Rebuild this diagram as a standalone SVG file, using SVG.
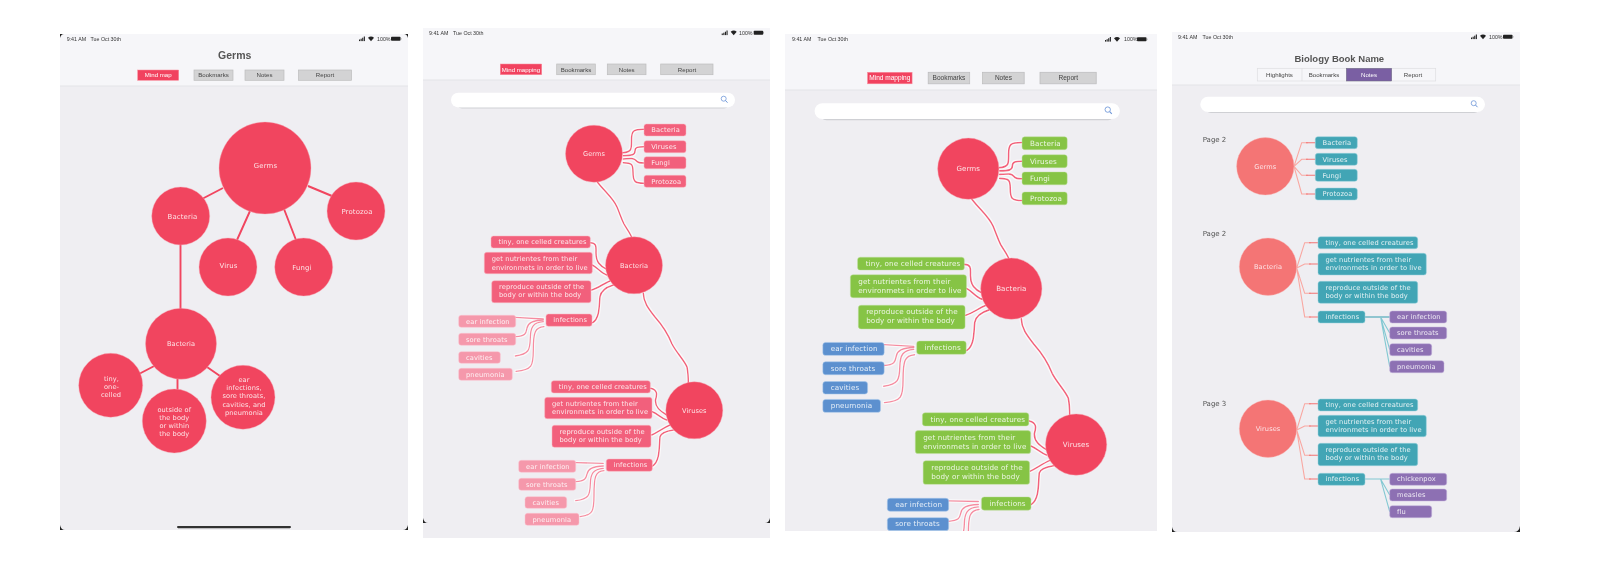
<svg xmlns="http://www.w3.org/2000/svg" xmlns:xlink="http://www.w3.org/1999/xlink" width="1608" height="570" viewBox="0 0 1608 570">
<defs>
<style>
text{font-family:"DejaVu Sans","Liberation Sans",sans-serif;}
.ui{font-family:"Liberation Sans",Arial,sans-serif;}
.st{font-size:5.3px;fill:#333;}
.title{font-size:10.5px;font-weight:bold;fill:#555;text-anchor:middle;}
.tab{font-size:6.1px;fill:#444;text-anchor:middle;}
.tabw{font-size:6.1px;fill:#fff;text-anchor:middle;}
.hd{fill:#f6f6f9;}
.bg{fill:#efeef2;}
.dv{stroke:#e4e4e7;stroke-width:1;fill:none;}
.tg{fill:#d3d3d4;stroke:#bdbdbe;stroke-width:.7;}
.tr{fill:#f1435f;stroke:#fa8a9a;stroke-width:.5;}
.c{fill:#f1455f;stroke:#f8a6b2;stroke-width:.4;}
.cs{fill:#f47474;stroke:#f9b9b5;stroke-width:.4;}
.cl{font-size:6.9px;fill:#fde3e6;text-anchor:middle;letter-spacing:.15px;}
.cm{font-size:6.6px;fill:#fde3e6;text-anchor:middle;letter-spacing:.1px;}
.pl{font-size:6.7px;fill:#fff;fill-opacity:.85;letter-spacing:.12px;}
.p1{fill:#f2607b;stroke:#fbb4c0;stroke-width:.5;}
.p2{fill:#f598ab;stroke:#fbc5d0;stroke-width:.5;}
.g{fill:#86c445;stroke:#c0e0a0;stroke-width:.4;}
.b{fill:#5b90cf;stroke:#a6c6ea;stroke-width:.5;}
.t{fill:#43a5b5;stroke:#98d2dc;stroke-width:.5;}
.v{fill:#8d70b3;stroke:#c4b3dc;stroke-width:.5;}
.ln{fill:none;stroke:#f3607b;stroke-width:1.5;stroke-linecap:round;}
.lp{fill:none;stroke:#f68ba0;stroke-width:1.3;stroke-linecap:round;}
.thick{fill:none;stroke:#f1455f;stroke-width:1.9;}
.sa{fill:none;stroke:#f9a7a1;stroke-width:1.1;}
.sb{fill:none;stroke:#f47474;stroke-width:1.1;}
.ta{fill:none;stroke:#82c8d2;stroke-width:1.1;}
.tb{fill:none;stroke:#43a5b5;stroke-width:1.1;}
.sr{fill:#fff;}
.srs{fill:#cfd0d4;}
.pg{font-size:7px;fill:#555;}
</style>
<filter id="soft" x="0" y="0" width="100%" height="100%"><feGaussianBlur stdDeviation="0.32"/></filter>
<filter id="halo" x="-5%" y="-5%" width="110%" height="110%"><feMorphology in="SourceAlpha" operator="dilate" radius="0.6" result="d"/><feFlood flood-color="#fff" flood-opacity=".7"/><feComposite in2="d" operator="in" result="w"/><feMerge><feMergeNode in="w"/><feMergeNode in="SourceGraphic"/></feMerge></filter>
<g id="sig"><rect x="0" y="3" width="1.1" height="1.6" fill="#222"/><rect x="1.6" y="2.2" width="1.1" height="2.4" fill="#222"/><rect x="3.2" y="1.2" width="1.1" height="3.4" fill="#222"/><rect x="4.8" y="0" width="1.1" height="4.6" fill="#222"/><path d="M9 1.2Q12 -1 15 1.2L12 4.8Z" fill="#222"/><rect x="32" y="0.3" width="9.5" height="4" rx=".8" fill="#222"/><rect x="41.7" y="1.5" width=".6" height="1.6" fill="#777"/></g>
<g id="mag"><circle cx="-.8" cy="-.8" r="2.5" fill="none" stroke="#6f97d8" stroke-width=".8"/><path d="M1 1L3 3.2" stroke="#6f97d8" stroke-width="1" fill="none"/></g>
<clipPath id="c3"><rect x="423" y="28" width="347" height="462.700"/></clipPath>
</defs>
<rect width="1608" height="570" fill="#fff"/>
<g filter="url(#soft)">

<g id="panel-1">
<rect x="60" y="34" width="348" height="496" class="bg"/>
<rect x="60" y="34" width="348" height="52" class="hd"/>
<path d="M60 86H408" class="dv"/>
<path d="M60 34h4q-3 0-4 4zM408 34h-4q3 0 4 4zM60 530h5q-4 0-5-5zM408 530h-5q4 0 5-5z" fill="#222"/>
<text x="66.700" y="41" class="st ui">9:41 AM</text><text x="90.500" y="41" class="st ui">Tue Oct 30th</text>
<use href="#sig" x="359" y="36.500"/><text x="377" y="41" class="st ui">100%</text>
<text x="234.700" y="58.500" class="title ui">Germs</text>
<rect x="137.700" y="70" width="41" height="10.300" class="tr"/><text x="158.200" y="77.300" class="tabw ui">Mind map</text>
<rect x="194" y="70" width="39" height="10.300" class="tg"/><text x="213.500" y="77.300" class="tab ui">Bookmarks</text>
<rect x="245" y="70" width="39" height="10.300" class="tg"/><text x="264.500" y="77.300" class="tab ui">Notes</text>
<rect x="298.500" y="70" width="53" height="10.300" class="tg"/><text x="325" y="77.300" class="tab ui">Report</text>
</g>
<g id="connectors-1">
<path class="thick" d="M223 188L200 200M250 211L237 240M284 209L296 240M308 186L332 196M180.500 245V309M160 363L137 375M177.500 378V390M207 367L220 376"/>
</g>
<g id="n1-germs"><circle cx="265" cy="168" r="46" class="c"/><text x="265.500" y="168" class="cl">Germs</text></g>
<g id="n1-bacteria"><circle cx="180.700" cy="216" r="29" class="c"/><text x="182.500" y="218.500" class="cl">Bacteria</text></g>
<g id="n1-protozoa"><circle cx="356" cy="211" r="29" class="c"/><text x="357" y="213.500" class="cl">Protozoa</text></g>
<g id="n1-virus"><circle cx="228" cy="267" r="29" class="c"/><text x="228.500" y="268" class="cl">Virus</text></g>
<g id="n1-fungi"><circle cx="303.700" cy="267" r="29" class="c"/><text x="302" y="269.500" class="cl">Fungi</text></g>
<g id="n1-bacteria-2"><circle cx="181" cy="343.700" r="35.500" class="c"/><text x="181" y="345.800" class="cm">Bacteria</text></g>
<g id="n1-tiny"><circle cx="110.700" cy="385.300" r="32" class="c"/><text class="cm"><tspan x="111.500" y="380.500">tiny,</tspan><tspan x="111.500" y="388.800">one-</tspan><tspan x="111" y="397">celled</tspan></text></g>
<g id="n1-outside"><circle cx="174.300" cy="421" r="32" class="c"/><text class="cm"><tspan x="174.300" y="411.500">outside of</tspan><tspan x="174.300" y="419.800">the body</tspan><tspan x="174.300" y="428">or within</tspan><tspan x="174.300" y="436.300">the body</tspan></text></g>
<g id="n1-ear"><circle cx="243" cy="397.300" r="32" class="c"/><text class="cm"><tspan x="244" y="381.700">ear</tspan><tspan x="244" y="390">infections,</tspan><tspan x="244" y="398.300">sore throats,</tspan><tspan x="244" y="406.600">cavities, and</tspan><tspan x="244" y="415">pneumonia</tspan></text></g>
<rect x="177" y="526" width="114" height="2.200" rx="1.100" fill="#333"/>

<g id="panel-2">
<rect x="423" y="28" width="347" height="510" class="bg"/>
<rect x="423" y="28" width="347" height="52" class="hd"/>
<path d="M423 80H770" class="dv"/>
<path d="M423 518q1 5 5 5h-5zM770 518q-1 5-5 5h5z" fill="#222"/>
<text x="429" y="35" class="st ui">9:41 AM</text><text x="453" y="35" class="st ui">Tue Oct 30th</text>
<use href="#sig" x="721.700" y="30.500"/><text x="739" y="35" class="st ui">100%</text>
</g>

<g id="map-a">
<g id="tabs-2">
<rect x="500.300" y="64" width="41.400" height="10.700" class="tr"/><text x="521" y="71.500" class="tabw ui">Mind mapping</text>
<rect x="556.700" y="64" width="38.600" height="10.700" class="tg"/><text x="576" y="71.500" class="tab ui">Bookmarks</text>
<rect x="607.300" y="64" width="38.700" height="10.700" class="tg"/><text x="626.700" y="71.500" class="tab ui">Notes</text>
<rect x="660.700" y="64" width="52.300" height="10.700" class="tg"/><text x="687" y="71.500" class="tab ui">Report</text>
<rect x="456" y="95" width="274" height="13.500" rx="6" class="srs"/>
<rect x="451" y="92.700" width="284" height="14.700" rx="7.300" class="sr"/>
<use href="#mag" x="724.500" y="99.500"/>
</g>
<g id="connectors-2" filter="url(#halo)">
<path id="edges-main" class="ln" d="M597.300 182C606 193 613 198 617 207C620 214 621 218 624 224C628 231 631 234 632.700 240M622.700 152.700C632 152 631.500 149 631.500 140C631.500 131 633 129.300 644 129.300M623.300 155.700C632 155.500 635 155 635 151C635 147 638 146.700 644 146.700M623.300 159C632 158.500 634 158 636 160.500C638 163 640 163 644 163M623.300 162.700C632 163 633 164 633 172C633 182 635 183.300 644 183.300M590.300 242.700C597 243 596 247 596 253C596 262 600 266 606.700 269.300M592.300 265C598 268 601 273 606.700 275M591.700 290C598 288 603 284 610 281M592.700 322.700C600 318 599 305 600 296.700C601 290 607 287 613.300 285M643.300 293.300C643.500 302 648 308 655 317C663 326 668 334 672 344C676 352 684 360 687 367C688 372 688.300 378 688.300 383.300M650.700 388.300C658 390 657 395 655.500 400C655 407 660 411 666.700 415M652.300 411.700C658 414 661 418 666.700 420M651.700 435C658 432 663 428 670 425M652.700 466C660 461 659 448 660 436.700C661 433 667 431 673.300 430"/>
<path id="edges-sub" class="lp" d="M515.300 317.300L543.300 319M515.700 336.700C526 336 526 333 527 328C528 323 532 320.500 543.300 320M515.300 356C529 354 530 350 530.300 338C530.500 327 533 322.500 543.300 321.700M516 371.300C532 370 533.300 366 533.300 350C533.300 332 535 327.500 544 326.700M575.700 462.700L603.300 463.300M575.700 481.700C586 481 586 478 587 474C588 469 592 466.500 603.300 466M575.700 500.700C589 499 590 495 590.300 484C590.500 474 593 469 603.300 468.300M580 516.700C593 515 594 511 594 495C594 477 595 471.500 604 470.700"/>
</g>
<g id="n2-germs"><circle cx="594" cy="153.700" r="28.500" class="c"/><text x="594" y="155.800" class="cm">Germs</text></g>
<g id="n2-bacteria-root"><circle cx="634" cy="265.300" r="28.500" class="c"/><text x="634" y="267.500" class="cm">Bacteria</text></g>
<g id="n2-viruses-root"><circle cx="694.300" cy="410.300" r="28.500" class="c"/><text x="694.300" y="412.500" class="cm">Viruses</text></g>
</g>
<g id="pills-2">
<g id="n2-bacteria"><rect x="644" y="124" width="42" height="12" rx="2.500" class="p1"/><text x="651.300" y="132.300" class="pl">Bacteria</text></g>
<g id="n2-viruses"><rect x="644" y="140.700" width="42" height="12" rx="2.500" class="p1"/><text x="651.300" y="149" class="pl">Viruses</text></g>
<g id="n2-fungi"><rect x="644" y="156.700" width="42" height="12" rx="2.500" class="p1"/><text x="651.300" y="165" class="pl">Fungi</text></g>
<g id="n2-protozoa"><rect x="644" y="175.300" width="42" height="12" rx="2.500" class="p1"/><text x="651.300" y="183.500" class="pl">Protozoa</text></g>
<g id="n2-b-tiny"><rect x="491" y="236" width="99.300" height="12" rx="2.500" class="p1"/><text x="498.500" y="244.300" class="pl">tiny, one celled creatures</text></g>
<g id="n2-b-get"><rect x="484.300" y="252.300" width="108" height="21.400" rx="2.500" class="p1"/><text class="pl"><tspan x="491.700" y="261">get nutrientes from their</tspan><tspan x="491.700" y="269.500">environmets in order to live</tspan></text></g>
<g id="n2-b-rep"><rect x="491.700" y="280.700" width="99.300" height="22" rx="2.500" class="p1"/><text class="pl"><tspan x="499" y="288.800">reproduce outside of the</tspan><tspan x="499" y="297.200">body or within the body</tspan></text></g>
<g id="n2-b-inf"><rect x="546" y="314" width="46" height="12.300" rx="2.500" class="p1"/><text x="553.300" y="322" class="pl">infections</text></g>
<g id="n2-b-ear"><rect x="458.700" y="315.300" width="57" height="12" rx="2.500" class="p2"/><text x="466" y="323.500" class="pl">ear infection</text></g>
<g id="n2-b-sore"><rect x="458.700" y="333.300" width="57" height="12" rx="2.500" class="p2"/><text x="466" y="341.500" class="pl">sore throats</text></g>
<g id="n2-b-cav"><rect x="458.700" y="351.700" width="41.600" height="11.600" rx="2.500" class="p2"/><text x="466" y="359.700" class="pl">cavities</text></g>
<g id="n2-b-pne"><rect x="458.700" y="368.300" width="53.600" height="12" rx="2.500" class="p2"/><text x="466" y="376.700" class="pl">pneumonia</text></g>
<g id="n2-v-tiny"><rect x="551.300" y="380.700" width="99" height="12.300" rx="2.500" class="p1"/><text x="558.800" y="389.300" class="pl">tiny, one celled creatures</text></g>
<g id="n2-v-get"><rect x="544.700" y="397.300" width="107.300" height="21.400" rx="2.500" class="p1"/><text class="pl"><tspan x="552" y="405.800">get nutrientes from their</tspan><tspan x="552" y="414.300">environmets in order to live</tspan></text></g>
<g id="n2-v-rep"><rect x="552" y="425.300" width="99" height="22" rx="2.500" class="p1"/><text class="pl"><tspan x="559.500" y="433.500">reproduce outside of the</tspan><tspan x="559.500" y="442">body or within the body</tspan></text></g>
<g id="n2-v-inf"><rect x="606.300" y="459" width="46" height="12.300" rx="2.500" class="p1"/><text x="613.700" y="467" class="pl">infections</text></g>
<g id="n2-v-ear"><rect x="518.700" y="460.300" width="57" height="12" rx="2.500" class="p2"/><text x="526" y="468.500" class="pl">ear infection</text></g>
<g id="n2-v-sore"><rect x="518.700" y="478.300" width="57" height="12" rx="2.500" class="p2"/><text x="526" y="486.500" class="pl">sore throats</text></g>
<g id="n2-v-cav"><rect x="525" y="496.700" width="41.700" height="11.600" rx="2.500" class="p2"/><text x="532.500" y="504.700" class="pl">cavities</text></g>
<g id="n2-v-pne"><rect x="525" y="513.300" width="54" height="12" rx="2.500" class="p2"/><text x="532.500" y="521.700" class="pl">pneumonia</text></g>
</g>

<g id="panel-3">
<rect x="785" y="34" width="372" height="497" class="bg"/>
<rect x="785" y="34" width="372" height="56" class="hd"/>
<path d="M785 90H1157" class="dv"/>
<text x="792" y="41" class="st ui">9:41 AM</text><text x="817.500" y="41" class="st ui">Tue Oct 30th</text>
<use href="#sig" x="1105" y="37"/><text x="1124" y="41" class="st ui">100%</text>
<g transform="translate(329.750 3.500) scale(1.075)" clip-path="url(#c3)">
<use href="#map-a"/>
<g id="pills-3">
<g id="n3-bacteria"><rect x="644" y="124" width="42" height="12" rx="2.500" class="g"/><text x="651.300" y="132.300" class="pl">Bacteria</text></g>
<g id="n3-viruses"><rect x="644" y="140.700" width="42" height="12" rx="2.500" class="g"/><text x="651.300" y="149" class="pl">Viruses</text></g>
<g id="n3-fungi"><rect x="644" y="156.700" width="42" height="12" rx="2.500" class="g"/><text x="651.300" y="165" class="pl">Fungi</text></g>
<g id="n3-protozoa"><rect x="644" y="175.300" width="42" height="12" rx="2.500" class="g"/><text x="651.300" y="183.500" class="pl">Protozoa</text></g>
<g id="n3-b-tiny"><rect x="491" y="236" width="99.300" height="12" rx="2.500" class="g"/><text x="498.500" y="244.300" class="pl">tiny, one celled creatures</text></g>
<g id="n3-b-get"><rect x="484.300" y="252.300" width="108" height="21.400" rx="2.500" class="g"/><text class="pl"><tspan x="491.700" y="261">get nutrientes from their</tspan><tspan x="491.700" y="269.500">environmets in order to live</tspan></text></g>
<g id="n3-b-rep"><rect x="491.700" y="280.700" width="99.300" height="22" rx="2.500" class="g"/><text class="pl"><tspan x="499" y="288.800">reproduce outside of the</tspan><tspan x="499" y="297.200">body or within the body</tspan></text></g>
<g id="n3-b-inf"><rect x="546" y="314" width="46" height="12.300" rx="2.500" class="g"/><text x="553.300" y="322" class="pl">infections</text></g>
<g id="n3-b-ear"><rect x="458.700" y="315.300" width="57" height="12" rx="2.500" class="b"/><text x="466" y="323.500" class="pl">ear infection</text></g>
<g id="n3-b-sore"><rect x="458.700" y="333.300" width="57" height="12" rx="2.500" class="b"/><text x="466" y="341.500" class="pl">sore throats</text></g>
<g id="n3-b-cav"><rect x="458.700" y="351.700" width="41.600" height="11.600" rx="2.500" class="b"/><text x="466" y="359.700" class="pl">cavities</text></g>
<g id="n3-b-pne"><rect x="458.700" y="368.300" width="53.600" height="12" rx="2.500" class="b"/><text x="466" y="376.700" class="pl">pneumonia</text></g>
<g id="n3-v-tiny"><rect x="551.300" y="380.700" width="99" height="12.300" rx="2.500" class="g"/><text x="558.800" y="389.300" class="pl">tiny, one celled creatures</text></g>
<g id="n3-v-get"><rect x="544.700" y="397.300" width="107.300" height="21.400" rx="2.500" class="g"/><text class="pl"><tspan x="552" y="405.800">get nutrientes from their</tspan><tspan x="552" y="414.300">environmets in order to live</tspan></text></g>
<g id="n3-v-rep"><rect x="552" y="425.300" width="99" height="22" rx="2.500" class="g"/><text class="pl"><tspan x="559.500" y="433.500">reproduce outside of the</tspan><tspan x="559.500" y="442">body or within the body</tspan></text></g>
<g id="n3-v-inf"><rect x="606.300" y="459" width="46" height="12.300" rx="2.500" class="g"/><text x="613.700" y="467" class="pl">infections</text></g>
<g id="n3-v-ear"><rect x="518.700" y="460.300" width="57" height="12" rx="2.500" class="b"/><text x="526" y="468.500" class="pl">ear infection</text></g>
<g id="n3-v-sore"><rect x="518.700" y="478.300" width="57" height="12" rx="2.500" class="b"/><text x="526" y="486.500" class="pl">sore throats</text></g>
</g>
</g>
</g>

<g id="panel-4">
<rect x="1172" y="32" width="348" height="500" class="bg"/>
<rect x="1172" y="32" width="348" height="53" class="hd"/>
<path d="M1172 85H1520" class="dv"/>
<path d="M1172 527q1 5 5 5h-5zM1520 526q-1 6-6 6h6z" fill="#222"/>
<text x="1178" y="39" class="st ui">9:41 AM</text><text x="1202.500" y="39" class="st ui">Tue Oct 30th</text>
<use href="#sig" x="1471" y="34.500"/><text x="1489" y="39" class="st ui">100%</text>
<text x="1339.300" y="61.500" class="title ui" style="font-size:9.500px">Biology Book Name</text>
<rect x="1257.300" y="68.300" width="178.400" height="12.700" fill="#f6f6f9" stroke="#dedee1" stroke-width=".7"/>
<path d="M1302 68.300V81" stroke="#dedee1" stroke-width=".7"/>
<rect x="1346.300" y="68.300" width="45.400" height="12.700" fill="#7a5fa3" stroke="#6e6e80" stroke-width=".5"/>
<text x="1279.500" y="76.800" class="tab ui">Highlights</text><text x="1324" y="76.800" class="tab ui">Bookmarks</text><text x="1369" y="76.800" class="tabw ui">Notes</text><text x="1413" y="76.800" class="tab ui">Report</text>
<rect x="1205" y="99" width="275" height="14" rx="6" class="srs"/>
<rect x="1200.300" y="96.700" width="284.700" height="15.300" rx="7.600" class="sr"/>
<use href="#mag" x="1474.500" y="104"/>
<text x="1202.700" y="141.500" class="pg">Page 2</text><text x="1202.700" y="235.500" class="pg">Page 2</text><text x="1202.700" y="405.500" class="pg">Page 3</text>
</g>
<g id="connectors-4">
<path class="sa" d="M1294 166.300L1301.700 142.700H1308M1294 166.300L1301.700 159.300H1308M1294 166.300L1301.700 175.300H1308M1294 166.300L1301.700 194H1308"/>
<path class="sb" d="M1306 142.700H1315.300M1306 159.300H1315.300M1306 175.300H1315.300M1306 194H1315.300"/>
<path class="sa" d="M1296.700 268L1304.700 242.700H1311M1296.700 268L1304.700 264H1311M1296.700 268L1304.700 293.300H1311M1296.700 268L1304.700 317H1311"/>
<path class="sb" d="M1309 242.700H1318M1309 264H1318M1309 293.300H1318M1309 317H1318"/>
<path class="sa" d="M1296.700 430L1304.700 403.700H1311M1296.700 430L1304.700 426H1311M1296.700 430L1304.700 455.300H1311M1296.700 430L1304.700 479H1311"/>
<path class="sb" d="M1309 403.700H1318M1309 426H1318M1309 455.300H1318M1309 479H1318"/>
<path class="tb" d="M1365 317H1389.700"/>
<path class="ta" d="M1380.700 317.300L1389.700 333M1380.700 317.300L1389.700 349.700M1380.700 317.300L1389.700 366.700"/>
<path class="ta" d="M1365 479H1389.700M1380.700 479.300L1389.700 495M1380.700 479.300L1389.700 511.700"/>
</g>
<g id="n4-germs"><circle cx="1265.300" cy="166.300" r="28.700" class="cs"/><text x="1265.300" y="168.500" class="cm">Germs</text></g>
<g id="n4-bacteria-root"><circle cx="1268" cy="266.700" r="28.700" class="cs"/><text x="1268" y="268.800" class="cm">Bacteria</text></g>
<g id="n4-viruses-root"><circle cx="1268" cy="428.700" r="28.700" class="cs"/><text x="1268" y="430.800" class="cm">Viruses</text></g>
<g id="n4-bacteria"><rect x="1315.300" y="136.700" width="42" height="12" rx="2.500" class="t"/><text x="1322.500" y="144.900" class="pl">Bacteria</text></g>
<g id="n4-viruses"><rect x="1315.300" y="153.300" width="42" height="12" rx="2.500" class="t"/><text x="1322.500" y="161.500" class="pl">Viruses</text></g>
<g id="n4-fungi"><rect x="1315.300" y="169.300" width="42" height="12" rx="2.500" class="t"/><text x="1322.500" y="177.500" class="pl">Fungi</text></g>
<g id="n4-protozoa"><rect x="1315.300" y="188" width="42" height="12" rx="2.500" class="t"/><text x="1322.500" y="196.200" class="pl">Protozoa</text></g>
<g id="n4-b-tiny"><rect x="1318" y="236.700" width="99.700" height="12" rx="2.500" class="t"/><text x="1325.500" y="244.900" class="pl">tiny, one celled creatures</text></g>
<g id="n4-b-get"><rect x="1318" y="253.300" width="108.300" height="21.700" rx="2.500" class="t"/><text class="pl"><tspan x="1325.500" y="261.800">get nutrientes from their</tspan><tspan x="1325.500" y="270.300">environmets in order to live</tspan></text></g>
<g id="n4-b-rep"><rect x="1318" y="281.300" width="99.700" height="22" rx="2.500" class="t"/><text class="pl"><tspan x="1325.500" y="289.700">reproduce outside of the</tspan><tspan x="1325.500" y="298">body or within the body</tspan></text></g>
<g id="n4-b-inf"><rect x="1318" y="311" width="47" height="12" rx="2.500" class="t"/><text x="1325.500" y="319" class="pl">infections</text></g>
<g id="n4-b-ear"><rect x="1389.700" y="311" width="57" height="12" rx="2.500" class="v"/><text x="1397" y="319" class="pl">ear infection</text></g>
<g id="n4-b-sore"><rect x="1389.700" y="327" width="57" height="12" rx="2.500" class="v"/><text x="1397" y="335" class="pl">sore throats</text></g>
<g id="n4-b-cav"><rect x="1389.700" y="343.700" width="42" height="12" rx="2.500" class="v"/><text x="1397" y="351.800" class="pl">cavities</text></g>
<g id="n4-b-pne"><rect x="1389.700" y="360.700" width="54.300" height="12" rx="2.500" class="v"/><text x="1397" y="368.800" class="pl">pneumonia</text></g>
<g id="n4-v-tiny"><rect x="1318" y="399" width="99.700" height="12" rx="2.500" class="t"/><text x="1325.500" y="407.200" class="pl">tiny, one celled creatures</text></g>
<g id="n4-v-get"><rect x="1318" y="415.300" width="108.300" height="21.400" rx="2.500" class="t"/><text class="pl"><tspan x="1325.500" y="423.800">get nutrientes from their</tspan><tspan x="1325.500" y="432.300">environmets in order to live</tspan></text></g>
<g id="n4-v-rep"><rect x="1318" y="443.300" width="99.700" height="22.400" rx="2.500" class="t"/><text class="pl"><tspan x="1325.500" y="451.600">reproduce outside of the</tspan><tspan x="1325.500" y="460">body or within the body</tspan></text></g>
<g id="n4-v-inf"><rect x="1318" y="473.300" width="47" height="12" rx="2.500" class="t"/><text x="1325.500" y="481.400" class="pl">infections</text></g>
<g id="n4-v-chi"><rect x="1389.700" y="473.300" width="57" height="12" rx="2.500" class="v"/><text x="1397" y="481.400" class="pl">chickenpox</text></g>
<g id="n4-v-mea"><rect x="1389.700" y="489" width="57" height="12" rx="2.500" class="v"/><text x="1397" y="497.200" class="pl">measles</text></g>
<g id="n4-v-flu"><rect x="1389.700" y="505.700" width="42" height="12" rx="2.500" class="v"/><text x="1397" y="513.800" class="pl">flu</text></g>
</g>
</svg>
